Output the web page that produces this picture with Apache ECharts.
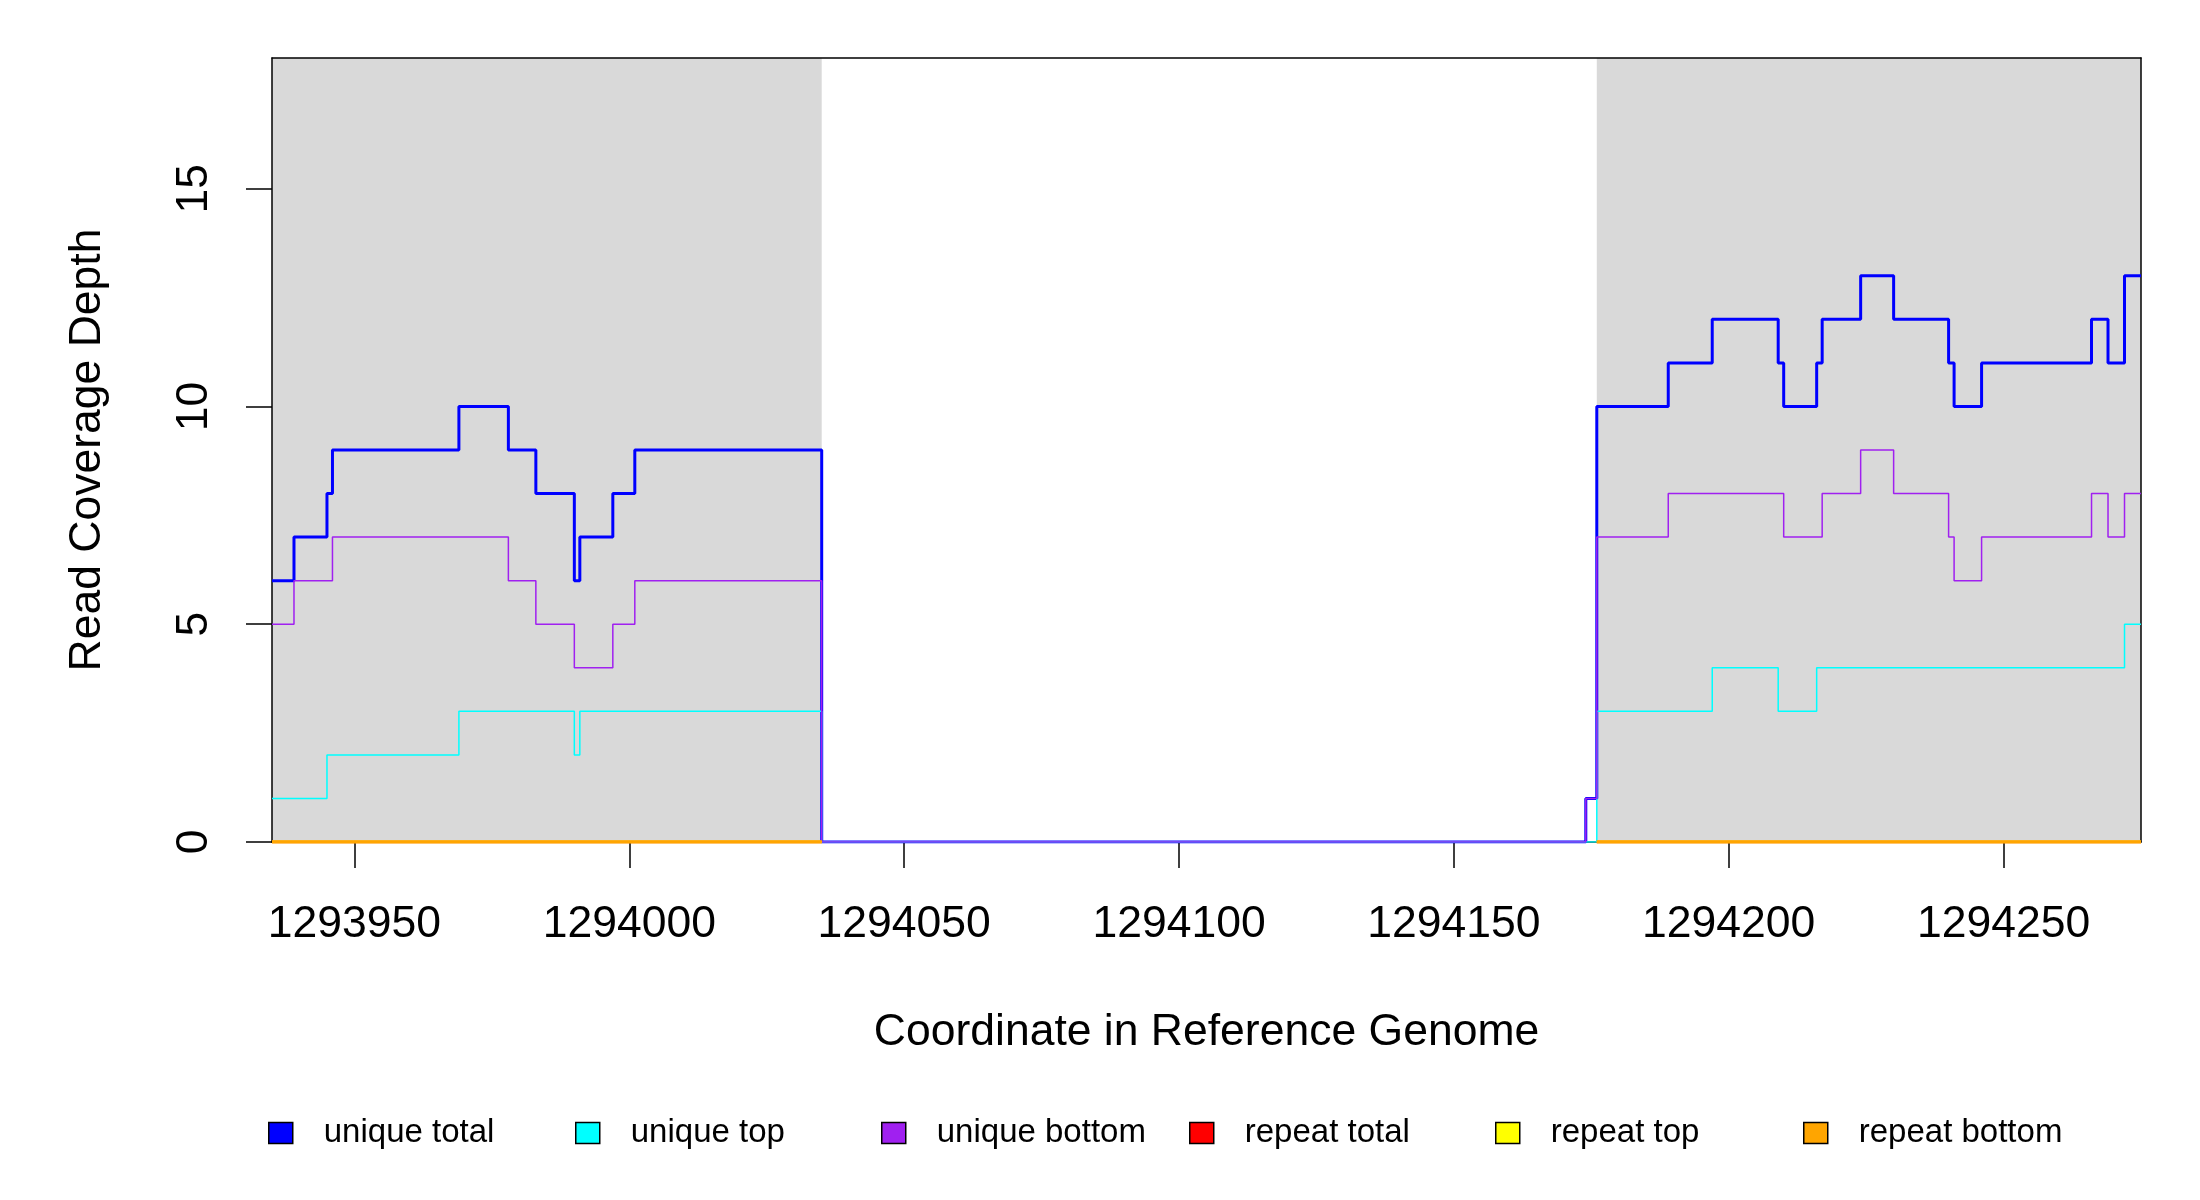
<!DOCTYPE html>
<html>
<head>
<meta charset="utf-8">
<script src="https://cdn.jsdelivr.net/npm/echarts@6/dist/echarts.min.js"></script>
<style>
html,body{margin:0;padding:0;background:#fff;}
#chart{width:2200px;height:1200px;}
</style>
</head>
<body>
<div id="chart"></div>
<script>
// ---- data ----
const positions = [1293935, 1293939, 1293945, 1293946, 1293969, 1293978, 1293983, 1293990, 1293991, 1293997, 1294001, 1294035,
                   1294174, 1294176, 1294189, 1294197, 1294209, 1294210, 1294216, 1294217, 1294224, 1294230, 1294240, 1294241,
                   1294246, 1294266, 1294269, 1294272, 1294275];
const uniqueTotal  = [6, 7, 8, 9, 10, 9, 8, 6, 7, 8, 9, 0, 1, 10, 11, 12, 11, 10, 11, 12, 13, 12, 11, 10, 11, 12, 11, 13, 13];
const uniqueTop    = [1, 1, 2, 2, 3, 3, 3, 2, 3, 3, 3, 0, 0, 3, 3, 4, 3, 3, 4, 4, 4, 4, 4, 4, 4, 4, 4, 5, 5];
const uniqueBottom = [5, 6, 6, 7, 7, 6, 5, 4, 4, 5, 6, 0, 1, 7, 8, 8, 8, 7, 7, 8, 9, 8, 7, 6, 7, 8, 7, 8, 8];
const repeatTotal  = [0, 0, 0, 0, 0, 0, 0, 0, 0, 0, 0, 0, null, 0, 0, 0, 0, 0, 0, 0, 0, 0, 0, 0, 0, 0, 0, 0, 0];
const repeatTop    = [0, 0, 0, 0, 0, 0, 0, 0, 0, 0, 0, 0, null, 0, 0, 0, 0, 0, 0, 0, 0, 0, 0, 0, 0, 0, 0, 0, 0];
const repeatBottom = [0, 0, 0, 0, 0, 0, 0, 0, 0, 0, 0, 0, null, 0, 0, 0, 0, 0, 0, 0, 0, 0, 0, 0, 0, 0, 0, 0, 0];
const shadedRegions = [[1293935, 1294035], [1294176, 1294275]];
const xTicks = [1293950, 1294000, 1294050, 1294100, 1294150, 1294200, 1294250];
const yTicks = [0, 5, 10, 15];
const seriesNames = ['unique total', 'unique top', 'unique bottom', 'repeat total', 'repeat top', 'repeat bottom'];
const seriesValues = [uniqueTotal, uniqueTop, uniqueBottom, repeatTotal, repeatTop, repeatBottom];

// ---- styles / layout ----
const colors = ['#0000FF', '#00FFFF', '#A020F0', '#FF0000', '#FFFF00', '#FFA500'];
const widths = [3, 1.5, 1.5, 3, 3, 3];
const legendLeft = [268, 575, 881, 1189, 1495, 1803];
const FONT = "'Liberation Sans', Arial, Helvetica, sans-serif";
const X_MIN = 1293935, X_MAX = 1294275, Y_MIN = 0, Y_MAX = 18;

const chart = echarts.init(document.getElementById('chart'), null, {renderer: 'canvas'});

const series = [{
  type: 'line', name: '__shade', data: [], z: 0, silent: true,
  markArea: {
    silent: true,
    itemStyle: {color: '#D9D9D9'},
    data: shadedRegions.map(r => [{xAxis: r[0], yAxis: Y_MIN}, {xAxis: r[1], yAxis: Y_MAX}])
  }
}];
seriesNames.forEach((name, i) => {
  const vals = seriesValues[i];
  const hasGap = vals.some(v => v === null);
  series.push({
    type: 'line', name: name,
    // stepped coverage; series with gaps are constant so a plain polyline keeps the gap intact
    step: hasGap ? false : 'end',
    showSymbol: false, symbol: 'none',
    z: 3, clip: true, connectNulls: false,
    color: colors[i],
    lineStyle: {color: colors[i], width: widths[i]},
    data: positions.map((x, k) => [x, vals[k] === null ? '-' : vals[k]])
  });
});

const legends = seriesNames.map((name, i) => ({
  data: [name], left: legendLeft[i], top: 1116.5, padding: 0,
  icon: 'rect', itemWidth: 24, itemHeight: 21, selectedMode: false,
  itemStyle: {color: colors[i], borderColor: '#000', borderWidth: 1.5},
  textStyle: {fontFamily: FONT, fontSize: 33, color: '#000', padding: [0, 0, 0, 26]}
}));

const boxLine = {show: true, onZero: false, lineStyle: {color: '#000', width: 1.5}};

chart.setOption({
  animation: false,
  backgroundColor: '#fff',
  grid: {left: 272, right: 59, top: 58, bottom: 358, show: false},
  legend: legends,
  xAxis: [{
    type: 'value', min: X_MIN, max: X_MAX, position: 'bottom', z: 2,
    axisLine: boxLine,
    splitLine: {show: false},
    axisTick: {show: true, customValues: xTicks, length: 26, lineStyle: {color: '#000', width: 1.5}},
    axisLabel: {customValues: xTicks, formatter: v => String(v), fontFamily: FONT, fontSize: 44.5, color: '#000', margin: 60},
    name: 'Coordinate in Reference Genome', nameLocation: 'middle', nameGap: 168,
    nameTextStyle: {fontFamily: FONT, fontSize: 44.5, color: '#000'}
  }, {
    type: 'value', min: X_MIN, max: X_MAX, position: 'top', z: 2,
    axisLine: boxLine, axisTick: {show: false}, axisLabel: {show: false}, splitLine: {show: false}
  }],
  yAxis: [{
    type: 'value', min: Y_MIN, max: Y_MAX, position: 'left', z: 2,
    axisLine: boxLine,
    splitLine: {show: false},
    axisTick: {show: true, customValues: yTicks, length: 26, lineStyle: {color: '#000', width: 1.5}},
    axisLabel: {customValues: yTicks, rotate: 90, fontFamily: FONT, fontSize: 44.5, color: '#000', margin: 55},
    name: 'Read Coverage Depth', nameLocation: 'middle', nameGap: 162, nameRotate: 90,
    nameTextStyle: {fontFamily: FONT, fontSize: 44.5, color: '#000'}
  }, {
    type: 'value', min: Y_MIN, max: Y_MAX, position: 'right', z: 2,
    axisLine: boxLine, axisTick: {show: false}, axisLabel: {show: false}, splitLine: {show: false}
  }],
  series: series
});
</script>
</body>
</html>
